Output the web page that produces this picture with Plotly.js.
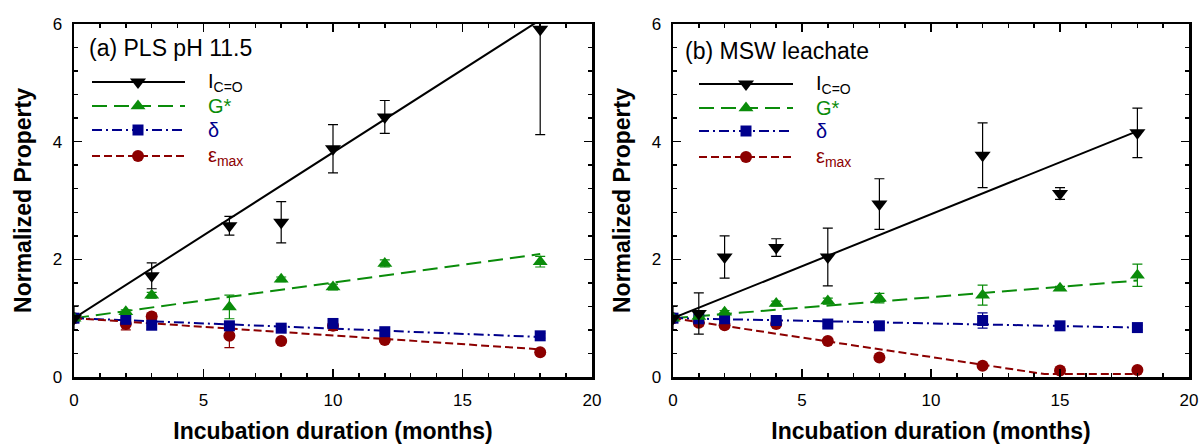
<!DOCTYPE html>
<html>
<head>
<meta charset="utf-8">
<script src="https://cdn.plot.ly/plotly-3.0.1.min.js"></script>
<style>html,body{margin:0;padding:0;background:#fff;}#chart{width:1201px;height:444px;}</style>
</head>
<body>
<div id="chart"></div>
<script>
// ---------- Data: panel (a) PLS pH 11.5 ----------
const monthsA_I = [0, 3, 6, 8, 10, 12, 18];
const icoA      = [1.0, 1.72, 2.57, 2.63, 3.88, 4.42, 5.91];
const icoA_err  = [0.21, 0.22, 0.16, 0.35, 0.41, 0.28, 1.79];

const monthsA = [0, 2, 3, 6, 8, 10, 12, 18];
const gA      = [1.0, 1.11, 1.39, 1.19, 1.66, 1.53, 1.93, 1.96];
const gA_err  = [0, 0.03, 0.05, 0.20, 0.04, 0.05, 0.06, 0.09];
const dA      = [1.0, 0.98, 0.88, 0.87, 0.83, 0.91, 0.77, 0.70];
const dA_err  = [0.03, 0.03, 0.07, 0.04, 0.03, 0.07, 0.04, 0.04];
const eA      = [1.0, 0.90, 1.03, 0.70, 0.61, 0.87, 0.63, 0.42];
const eA_err  = [0, 0.10, 0.05, 0.20, 0.03, 0.08, 0.04, 0.03];

// fitted lines (a)
const fitA_x   = [0, 18];
const fitA_ico = [1.0, 6.07];
const fitA_g   = [1.0, 2.09];
const fitA_d   = [1.0, 0.68];
const fitA_e   = [1.0, 0.47];

// ---------- Data: panel (b) MSW leachate ----------
const monthsB = [0, 1, 2, 4, 6, 8, 12, 15, 18];
const icoB     = [1.0, 1.08, 2.04, 2.20, 2.04, 2.94, 3.77, 3.12, 4.15];
const icoB_err = [0.21, 0.35, 0.36, 0.15, 0.49, 0.43, 0.55, 0.10, 0.42];
const gB       = [1.0, 1.03, 1.10, 1.25, 1.29, 1.34, 1.39, 1.51, 1.73];
const gB_err   = [0, 0.02, 0.03, 0.04, 0.05, 0.08, 0.17, 0.03, 0.19];
const dB       = [1.0, 0.99, 0.99, 0.96, 0.90, 0.87, 0.96, 0.87, 0.84];
const dB_err   = [0.03, 0.03, 0.03, 0.03, 0.04, 0.05, 0.13, 0.03, 0.04];
const eB       = [1.0, 0.92, 0.88, 0.90, 0.61, 0.33, 0.19, 0.11, 0.12];
const eB_err   = [0, 0.05, 0.03, 0.04, 0.03, 0.03, 0.03, 0.02, 0.03];

// fitted lines (b)
const fitB_x   = [0, 18];
const fitB_ico = [1.0, 4.18];
const fitB_g   = [1.0, 1.64];
const fitB_d   = [1.0, 0.84];
const fitB_ex  = [0, 14.4, 18];
const fitB_e   = [1.0, 0.05, 0.05];

// labels
const seriesNames = ['I<sub>C=O</sub>', 'G*', 'δ', 'ε<sub>max</sub>'];
const panelTitles = ['(a) PLS pH 11.5', '(b) MSW leachate'];
const xTitle = 'Incubation duration (months)';
const yTitle = 'Normalized Property';

// ---------- styles ----------
const FONT = 'Liberation Sans, Arial, Helvetica, sans-serif';
const colors  = ['#000000', '#0a8c0a', '#00008c', '#8c0000'];
const symbols = ['triangle-down', 'triangle-up', 'square', 'circle'];
const msizes  = [14, 13, 11, 12];
const dashes  = ['solid', '15px,7px', '10px,4px,2px,4px', '8px,4px'];

const traces = [];
function fit(x, y, i, xa, ya) {
  traces.push({x: x, y: y, xaxis: xa, yaxis: ya, mode: 'lines', type: 'scatter',
    line: {color: colors[i], width: 2, dash: dashes[i]}, hoverinfo: 'skip', showlegend: false});
}
function pts(x, y, err, i, xa, ya) {
  traces.push({x: x, y: y, xaxis: xa, yaxis: ya, mode: 'markers', type: 'scatter',
    marker: {color: colors[i], symbol: symbols[i], size: msizes[i]},
    error_y: {type: 'data', array: err, visible: true, color: colors[i], thickness: 1.2, width: 5},
    name: seriesNames[i], showlegend: false});
}
// panel a
fit(fitA_x, fitA_ico, 0, 'x', 'y');
fit(fitA_x, fitA_g, 1, 'x', 'y');
fit(fitA_x, fitA_d, 2, 'x', 'y');
fit(fitA_x, fitA_e, 3, 'x', 'y');
pts(monthsA, eA, eA_err, 3, 'x', 'y');
pts(monthsA, dA, dA_err, 2, 'x', 'y');
pts(monthsA, gA, gA_err, 1, 'x', 'y');
pts(monthsA_I, icoA, icoA_err, 0, 'x', 'y');
// panel b
fit(fitB_x, fitB_ico, 0, 'x2', 'y2');
fit(fitB_x, fitB_g, 1, 'x2', 'y2');
fit(fitB_x, fitB_d, 2, 'x2', 'y2');
fit(fitB_ex, fitB_e, 3, 'x2', 'y2');
pts(monthsB, eB, eB_err, 3, 'x2', 'y2');
pts(monthsB, dB, dB_err, 2, 'x2', 'y2');
pts(monthsB, gB, gB_err, 1, 'x2', 'y2');
pts(monthsB, icoB, icoB_err, 0, 'x2', 'y2');

// ---------- in-plot legends (drawn on hidden pixel-scaled overlay axes) ----------
const legendRowsA = [82, 106, 130, 156];
const legendRowsB = [84, 108, 131, 157];
const legendPanels = [
  {xa: 'x3', ya: 'y3', rows: legendRowsA, x0: 92, x1: 185, xm: 138, xl: 206, tx: 87, ty: 48},
  {xa: 'x4', ya: 'y4', rows: legendRowsB, x0: 699, x1: 793, xm: 746, xl: 814, tx: 683, ty: 51}
];
const annotations = [];
legendPanels.forEach(function (p, k) {
  for (let i = 0; i < 4; i++) {
    traces.push({x: [p.x0, p.x1], y: [p.rows[i], p.rows[i]], xaxis: p.xa, yaxis: p.ya,
      mode: 'lines', line: {color: colors[i], width: 2, dash: dashes[i]}, hoverinfo: 'skip', showlegend: false});
    traces.push({x: [p.xm], y: [p.rows[i]], xaxis: p.xa, yaxis: p.ya, mode: 'markers',
      marker: {color: colors[i], symbol: symbols[i], size: msizes[i]}, hoverinfo: 'skip', showlegend: false});
    annotations.push({xref: p.xa, yref: p.ya, x: p.xl, y: p.rows[i], xanchor: 'left', yanchor: 'middle',
      text: seriesNames[i], showarrow: false, font: {family: FONT, size: 20, color: colors[i]}});
  }
  annotations.push({xref: p.xa, yref: p.ya, x: p.tx, y: p.ty, xanchor: 'left', yanchor: 'middle',
    text: panelTitles[k], showarrow: false, font: {family: FONT, size: 23, color: '#000'}});
});

function xax(domain, anchor) {
  return {domain: domain, anchor: anchor, range: [0, 20], dtick: 5, tick0: 0,
    ticks: 'inside', ticklen: 8, tickwidth: 1.5, tickcolor: '#000',
    minor: {dtick: 1, ticks: 'inside', ticklen: 4, tickwidth: 1.5, tickcolor: '#000'},
    showline: true, linewidth: 2.5, linecolor: '#000', mirror: 'allticks',
    showgrid: false, zeroline: false, ticklabelstandoff: 6,
    tickfont: {family: FONT, size: 17, color: '#000'},
    title: {text: xTitle, standoff: 30, font: {family: FONT, size: 23, color: '#000', weight: 'bold'}}};
}
function yax(anchor) {
  return {domain: [0, 1], anchor: anchor, range: [0, 6], dtick: 2, tick0: 0,
    ticks: 'inside', ticklen: 8, tickwidth: 1.5, tickcolor: '#000',
    minor: {dtick: 0.4, ticks: 'inside', ticklen: 4, tickwidth: 1.5, tickcolor: '#000'},
    showline: true, linewidth: 2.5, linecolor: '#000', mirror: 'allticks',
    showgrid: false, zeroline: false, ticklabelstandoff: 6,
    tickfont: {family: FONT, size: 17, color: '#000'},
    title: {text: yTitle, standoff: 15, font: {family: FONT, size: 23, color: '#000', weight: 'bold'}}};
}
const dA_ = [0, 518 / 1115];
const dB_ = [599 / 1115, 1];
const layout = {
  width: 1201, height: 444,
  margin: {l: 74, r: 12, t: 24, b: 67},
  paper_bgcolor: '#fff', plot_bgcolor: 'rgba(0,0,0,0)',
  font: {family: FONT, color: '#000'},
  showlegend: false,
  xaxis: xax(dA_, 'y'),
  yaxis: yax('x'),
  xaxis2: xax(dB_, 'y2'),
  yaxis2: yax('x2'),
  xaxis3: {overlaying: 'x', anchor: 'y3', range: [74, 592], visible: false, fixedrange: true},
  yaxis3: {overlaying: 'y', anchor: 'x3', range: [377, 24], visible: false, fixedrange: true},
  xaxis4: {overlaying: 'x2', anchor: 'y4', range: [673, 1189], visible: false, fixedrange: true},
  yaxis4: {overlaying: 'y2', anchor: 'x4', range: [377, 24], visible: false, fixedrange: true},
  annotations: annotations
};
Plotly.newPlot('chart', traces, layout, {displayModeBar: false, staticPlot: true});
</script>
</body>
</html>
